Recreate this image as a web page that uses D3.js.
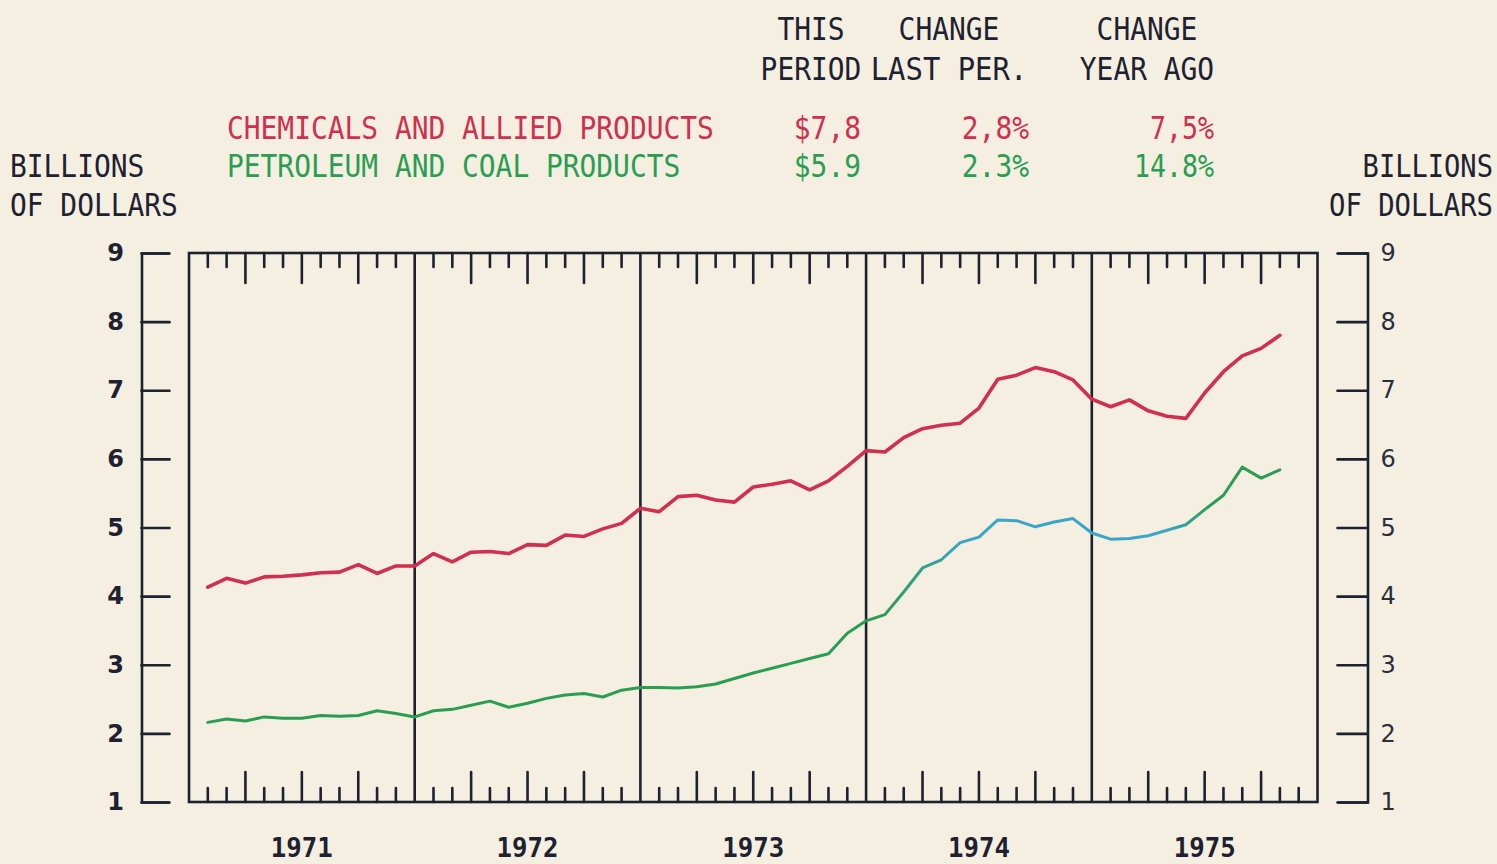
<!DOCTYPE html>
<html>
<head>
<meta charset="utf-8">
<script src="https://cdn.jsdelivr.net/npm/d3@7"></script>
<style>
  html, body { margin: 0; padding: 0; background: #f4efe1; }
  svg { display: block; }
</style>
</head>
<body>
<svg id="chart" width="1497" height="864"></svg>
<script>
// ---------- data ----------
const years = [1971, 1972, 1973, 1974, 1975];
const yTicks = [1, 2, 3, 4, 5, 6, 7, 8, 9];
// monthly values, Jan 1971 .. Oct 1975 (billions of dollars)
const chemicals = [
  4.13, 4.26, 4.19, 4.28, 4.29, 4.31, 4.34, 4.35, 4.46, 4.33, 4.44, 4.44,
  4.62, 4.50, 4.64, 4.65, 4.62, 4.75, 4.74, 4.89, 4.87, 4.98, 5.06, 5.28,
  5.23, 5.45, 5.47, 5.40, 5.37, 5.59, 5.63, 5.68, 5.55, 5.68, 5.89, 6.12,
  6.10, 6.31, 6.44, 6.49, 6.52, 6.74, 7.16, 7.22, 7.33, 7.27, 7.15, 6.87,
  6.76, 6.86, 6.70, 6.62, 6.59, 6.96, 7.27, 7.50, 7.61, 7.80
];
const petroleum = [
  2.16, 2.21, 2.18, 2.24, 2.22, 2.22, 2.26, 2.25, 2.26, 2.33, 2.29, 2.24,
  2.33, 2.35, 2.41, 2.47, 2.38, 2.44, 2.51, 2.56, 2.58, 2.53, 2.63, 2.67,
  2.67, 2.66, 2.68, 2.72, 2.80, 2.88, 2.95, 3.02, 3.09, 3.16, 3.46, 3.64,
  3.73, 4.06, 4.41, 4.53, 4.78, 4.86, 5.11, 5.10, 5.01, 5.08, 5.13, 4.92,
  4.83, 4.84, 4.88, 4.96, 5.04, 5.26, 5.47, 5.88, 5.72, 5.84
];
const seriesNames = ["CHEMICALS AND ALLIED PRODUCTS", "PETROLEUM AND COAL PRODUCTS"];
const thisPeriod = ["$7,8", "$5.9"];
const changeLastPer = ["2,8%", "2.3%"];
const changeYearAgo = ["7,5%", "14.8%"];
const colHeads1 = ["THIS", "CHANGE", "CHANGE"];
const colHeads2 = ["PERIOD", "LAST PER.", "YEAR AGO"];

// ---------- styles ----------
const INK = "#1d2130";
const RED = "#d02f4f";
const GREEN = "#2a9d52";
const TEAL = "#3aa5c6";
const MONO = "'DejaVu Sans Mono', 'Liberation Mono', monospace";
const CW = 16.8;     // plotter character width
const CAP = 23.5;    // plotter cap height

const svg = d3.select("#chart");
svg.append("rect").attr("width", 1497).attr("height", 864).attr("fill", "#f4efe1");

const pL = 189, pR = 1317.5, pT = 253, pB = 802;
const nMonths = years.length * 12;
const x = d3.scaleLinear().domain([0, nMonths]).range([pL, pR]);
const y = d3.scaleLinear().domain([1, 9]).range([pB, pT]);

// ---------- text helper (monospace, stretched vertically like a plotter font) ----------
function mono(t, px, py, fill, opts = {}) {
  const cw = opts.cw || CW;
  const fs = cw / 0.602;
  const k = (opts.cap || CAP) / (0.729 * fs);
  const len = t.length * cw;
  let sx = px;
  if (opts.anchor === "end") sx = px - len;
  if (opts.anchor === "middle") sx = px - len / 2;
  return svg.append("text")
    .attr("transform", `translate(${sx},${py}) scale(1,${k})`)
    .attr("font-family", MONO)
    .attr("font-size", fs)
    .attr("font-weight", opts.weight || "normal")
    .attr("fill", fill)
    .text(t);
}

// header columns
const colCenters = [811, 949, 1147];
colHeads1.forEach((t, i) => mono(t, colCenters[i], 40, INK, {anchor: "middle"}));
colHeads2.forEach((t, i) => mono(t, colCenters[i], 80, INK, {anchor: "middle", cw: i === 1 ? 17.4 : CW}));

const rowY = [139, 177];
const rowColors = [RED, GREEN];
seriesNames.forEach((t, i) => mono(t, 227, rowY[i], rowColors[i]));
thisPeriod.forEach((t, i) => mono(t, 861, rowY[i], rowColors[i], {anchor: "end"}));
changeLastPer.forEach((t, i) => mono(t, 1029, rowY[i], rowColors[i], {anchor: "end"}));
changeYearAgo.forEach((t, i) => mono(t, 1214, rowY[i], rowColors[i], {anchor: "end", cw: 16}));

// axis titles
mono("BILLIONS", 10, 177, INK);
mono("OF DOLLARS", 10, 216, INK);
mono("BILLIONS", 1493, 177, INK, {anchor: "end", cw: 16.3});
mono("OF DOLLARS", 1493, 216, INK, {anchor: "end", cw: 16.4});

// ---------- y axes (brackets) ----------
const leftAxis = svg.append("g")
  .attr("transform", `translate(141.5,0)`)
  .call(d3.axisLeft(y).tickValues(yTicks).tickSize(-28).tickSizeOuter(-28).tickPadding(18).tickFormat(d3.format("d")));
leftAxis.selectAll("text")
  .attr("font-family", "'DejaVu Sans', sans-serif")
  .attr("font-size", 24).attr("font-weight", "bold").attr("fill", INK)
  .attr("text-anchor", "middle").attr("x", -26);

const rightAxis = svg.append("g")
  .attr("transform", `translate(1367.5,0)`)
  .call(d3.axisRight(y).tickValues(yTicks).tickSize(-30).tickSizeOuter(-30).tickPadding(13).tickFormat(d3.format("d")));
rightAxis.selectAll("text")
  .attr("font-family", "'DejaVu Sans', sans-serif")
  .attr("font-size", 24).attr("fill", "#2a2e3a");

[leftAxis, rightAxis].forEach(g => {
  g.select(".domain").attr("stroke", INK).attr("stroke-width", 2.6).attr("fill", "none");
  g.selectAll(".tick line").attr("stroke", INK).attr("stroke-width", 2.6).attr("stroke-linecap", "round");
});

// ---------- frame, year dividers, month ticks ----------
const frame = svg.append("g").attr("stroke", INK).attr("stroke-width", 2.6).attr("fill", "none");
frame.append("rect").attr("x", pL).attr("y", pT).attr("width", pR - pL).attr("height", pB - pT);

const dividers = d3.range(1, years.length).map(k => k * 12);
frame.selectAll("line.div").data(dividers).join("line").attr("class", "div")
  .attr("x1", d => x(d)).attr("x2", d => x(d)).attr("y1", pT).attr("y2", pB);

const monthTicks = d3.range(0, nMonths).filter(m => m % 12 !== 0);
const tickLen = m => (m % 3 === 0 ? 30 : 14);
frame.selectAll("line.tt").data(monthTicks).join("line").attr("class", "tt")
  .attr("stroke-linecap", "round")
  .attr("x1", d => x(d)).attr("x2", d => x(d)).attr("y1", pT).attr("y2", d => pT + tickLen(d));
frame.selectAll("line.bt").data(monthTicks).join("line").attr("class", "bt")
  .attr("stroke-linecap", "round")
  .attr("x1", d => x(d)).attr("x2", d => x(d)).attr("y1", pB).attr("y2", d => pB - tickLen(d));

// year labels
svg.selectAll("text.year").data(years).join("text").attr("class", "year")
  .attr("x", (d, i) => x(i * 12 + 6) - 31).attr("y", 857)
  .attr("font-family", MONO).attr("font-size", 27).attr("font-weight", "bold")
  .attr("fill", INK).attr("textLength", 62).attr("lengthAdjust", "spacingAndGlyphs")
  .text(d => d);

// ---------- lines ----------
const defs = svg.append("defs");
const grad = defs.append("linearGradient").attr("id", "petroGrad")
  .attr("gradientUnits", "userSpaceOnUse")
  .attr("x1", pL).attr("x2", pR).attr("y1", 0).attr("y2", 0);
const gStops = [[0, GREEN], [37, GREEN], [41, TEAL], [52, TEAL], [54.5, GREEN], [60, GREEN]];
gStops.forEach(([m, c]) => grad.append("stop")
  .attr("offset", (x(m) - pL) / (pR - pL)).attr("stop-color", c));

const line = d3.line().x((d, i) => x(i + 1)).y(d => y(d));
svg.append("path").datum(petroleum).attr("d", line)
  .attr("fill", "none").attr("stroke", "url(#petroGrad)").attr("stroke-width", 3)
  .attr("stroke-linejoin", "round").attr("stroke-linecap", "round");
svg.append("path").datum(chemicals).attr("d", line)
  .attr("fill", "none").attr("stroke", RED).attr("stroke-width", 3.6)
  .attr("stroke-linejoin", "round").attr("stroke-linecap", "round");
</script>
</body>
</html>
